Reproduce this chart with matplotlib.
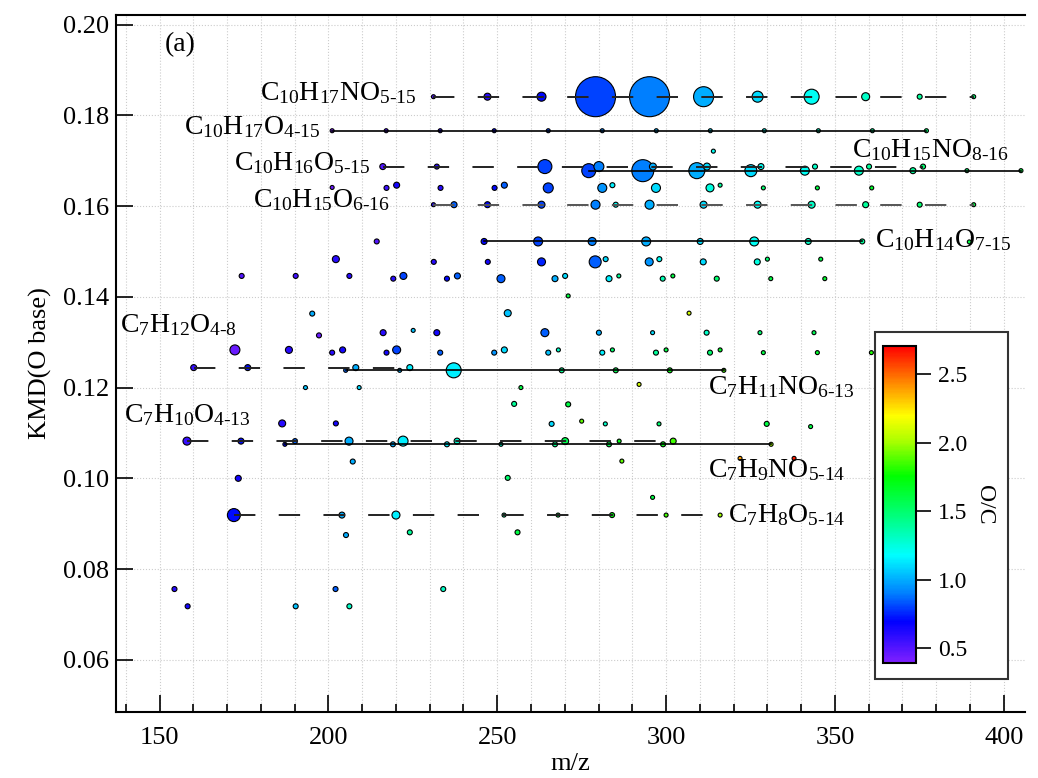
import numpy as np
import matplotlib
matplotlib.use('Agg')
import matplotlib.pyplot as plt
from matplotlib.colors import LinearSegmentedColormap, Normalize
from matplotlib.ticker import MultipleLocator, FormatStrFormatter
from matplotlib.patches import Rectangle

plt.rcParams['font.family'] = ['Liberation Serif', 'DejaVu Serif']
plt.rcParams['mathtext.fontset'] = 'custom'
plt.rcParams['mathtext.rm'] = 'Liberation Serif'
plt.rcParams['mathtext.it'] = 'Liberation Serif:italic'
plt.rcParams['mathtext.bf'] = 'Liberation Serif:bold'

# homologous series (members differ by one O)
ser_labels = [r'C$_{10}$H$_{17}$NO$_{5\text{-}15}$', r'C$_{10}$H$_{17}$O$_{4\text{-}15}$',
              r'C$_{10}$H$_{16}$O$_{5\text{-}15}$', r'C$_{10}$H$_{15}$NO$_{8\text{-}16}$',
              r'C$_{10}$H$_{15}$O$_{6\text{-}16}$', r'C$_{10}$H$_{14}$O$_{7\text{-}15}$',
              r'C$_{7}$H$_{12}$O$_{4\text{-}8}$', r'C$_{7}$H$_{11}$NO$_{6\text{-}13}$',
              r'C$_{7}$H$_{10}$O$_{4\text{-}13}$', r'C$_{7}$H$_{9}$NO$_{5\text{-}14}$',
              r'C$_{7}$H$_{8}$O$_{5\text{-}14}$']
ser_kmd = [0.1841, 0.1766, 0.1687, 0.1678, 0.1603, 0.1522, 0.1244, 0.1238, 0.1082, 0.1075, 0.0919]
ser1_mz = [231.1, 247.1, 263.1, 279.1, 295.1, 311.1, 327.1, 343.1, 359.1, 375.1, 391.1]
ser2_mz = [201.1, 217.1, 233.1, 249.1, 265.1, 281.1, 297.1, 313.1, 329.1, 345.1, 361.1, 377.1]
ser3_mz = [216.1, 232.1, 248.1, 264.1, 280.1, 296.1, 312.1, 328.1, 344.1, 360.1, 376.1]
ser4_mz = [277.1, 293.1, 309.1, 325.1, 341.1, 357.1, 373.1, 389.1, 405.1]
ser5_mz = [231.1, 247.1, 263.1, 279.1, 295.1, 311.1, 327.1, 343.1, 359.1, 375.1, 391.1]
ser6_mz = [246.1, 262.1, 278.1, 294.1, 310.1, 326.1, 342.1, 358.1]
ser7_mz = [160.1, 176.1, 192.1, 208.1, 224.1]
ser8_mz = [205.1, 221.1, 237.1, 253.1, 269.1, 285.1, 301.1, 317.1]
ser9_mz = [158.1, 174.1, 190.1, 206.1, 222.1, 238.1, 254.1, 270.1, 286.1, 302.1]
ser10_mz = [187.1, 203.1, 219.1, 235.1, 251.1, 267.1, 283.1, 299.1, 315.1, 331.1]
ser11_mz = [172.0, 188.0, 204.0, 220.0, 236.0, 252.0, 268.0, 284.0, 300.0, 316.0]
ser_dashed = [True, False, True, False, True, False, True, False, True, False, True]

# all detected ions: m/z, KMD, O/C and relative intensity
mz = [231.1, 247.1, 263.1, 279.1, 295.1, 311.1, 327.1, 343.1, 359.1, 375.1, 391.1,
      201.1, 217.1, 233.1, 249.1, 265.1, 281.1, 297.1, 313.1, 329.1, 345.1, 361.1, 377.1,
      314.0,
      216.1, 232.1, 264.1, 280.1, 296.1, 312.1, 328.1, 344.1, 360.1, 376.1,
      277.1, 293.1, 309.1, 325.1, 341.1, 357.1, 373.1, 389.1, 405.1,
      201.1, 217.2, 220.2, 233.2, 249.2, 252.1, 265.1, 281.1, 284.1, 297.0, 313.0, 316.0, 328.8, 344.8, 360.9,
      231.1, 237.2, 247.1, 263.1, 279.1, 285.1, 295.1, 311.1, 327.1, 343.1, 359.1, 375.1, 391.1,
      214.3, 246.1, 262.1, 278.1, 294.1, 310.1, 326.1, 342.1, 358.1, 389.8,
      202.2, 231.2, 247.2, 263.1, 279.0, 282.1, 295.0, 298.0, 311.0, 327.0, 330.0, 345.8,
      174.3, 190.3, 206.2, 219.2, 222.2, 235.1, 238.2, 251.1, 267.1, 270.1, 283.1, 286.0, 299.0, 302.0,
      315.0, 331.0, 347.0,
      271.0,
      195.2, 253.1, 306.8,
      197.2, 216.2, 225.1, 232.1, 264.1, 280.1, 296.0, 312.0, 327.8, 343.8,
      172.3, 188.3, 201.1, 204.2, 217.2, 220.2, 233.1, 249.1, 252.1, 265.1, 268.1, 281.1, 284.1, 297.0,
      300.0, 313.0, 316.0, 328.8, 344.8, 360.8,
      160.1, 176.1, 208.1, 224.1,
      205.1, 221.1, 237.1, 269.1, 285.1, 301.1, 317.1,
      193.2, 209.1, 257.0, 292.0,
      255.0, 271.0,
      186.3, 202.2, 266.1, 275.0, 282.0, 297.9, 329.8, 342.8,
      158.1, 174.1, 190.1, 206.1, 222.1, 238.1, 270.1, 286.1, 302.1,
      187.1, 219.1, 235.1, 251.1, 267.1, 283.1, 299.1, 331.1,
      207.2, 286.9, 321.9, 337.9,
      173.3, 253.1,
      296.0,
      172.0, 204.0, 220.0, 252.0, 268.0, 284.0, 300.0, 316.0,
      205.2, 224.1, 256.0,
      154.4, 202.1, 234.0,
      158.3, 190.3, 206.2]
kmd = [0.1841] * 11 + [0.1766] * 12 + [0.1721] + [0.1687] * 10 + [0.1678] * 9 + \
      [0.1641, 0.1640, 0.1646, 0.1640, 0.1640, 0.1646, 0.1640, 0.1640, 0.1646, 0.1640, 0.1640, 0.1646,
       0.1640, 0.1640, 0.1640] + \
      [0.1603] * 13 + [0.1522] * 9 + [0.1521] + \
      [0.1483, 0.1477, 0.1477, 0.1477, 0.1477, 0.1483, 0.1477, 0.1483, 0.1477, 0.1477, 0.1483, 0.1483] + \
      [0.1446, 0.1446, 0.1446, 0.1440, 0.1446, 0.1440, 0.1446, 0.1440, 0.1440, 0.1446, 0.1440, 0.1446,
       0.1440, 0.1446, 0.1440, 0.1440, 0.1440] + \
      [0.1402] + [0.1363, 0.1364, 0.1364] + \
      [0.1315, 0.1321, 0.1326, 0.1321, 0.1321, 0.1321, 0.1321, 0.1321, 0.1321, 0.1321] + \
      [0.1283, 0.1283, 0.1277, 0.1283, 0.1277, 0.1283, 0.1277, 0.1277, 0.1283, 0.1277, 0.1283, 0.1277,
       0.1283, 0.1277, 0.1283, 0.1277, 0.1283, 0.1277, 0.1277, 0.1277] + \
      [0.1244] * 4 + [0.1238] * 7 + [0.1200, 0.1200, 0.1200, 0.1207] + [0.1164, 0.1163] + \
      [0.1121, 0.1121, 0.1120, 0.1126, 0.1120, 0.1120, 0.1120, 0.1114] + \
      [0.1082] * 9 + [0.1075] * 8 + [0.1037, 0.1038, 0.1044, 0.1044] + [0.1000, 0.1001] + [0.0958] + \
      [0.0919] * 8 + [0.0875, 0.0881, 0.0881] + [0.0756] * 3 + [0.0718] * 3
oc = [0.5, 0.6, 0.7, 0.8, 0.9, 1.0, 1.1, 1.2, 1.3, 1.4, 1.5,
      0.4, 0.5, 0.6, 0.7, 0.8, 0.9, 1.0, 1.1, 1.2, 1.3, 1.4, 1.5,
      1.2,
      0.5, 0.6, 0.8, 0.9, 1.0, 1.1, 1.2, 1.3, 1.4, 1.5,
      0.8, 0.9, 1.0, 1.1, 1.2, 1.3, 1.4, 1.5, 1.6,
      0.45, 0.55, 0.65, 0.6, 0.7, 0.85, 0.8, 0.95, 1.15, 1.1, 1.25, 1.4, 1.5, 1.6, 1.65,
      0.6, 0.85, 0.7, 0.8, 0.9, 1.2, 1.0, 1.1, 1.2, 1.3, 1.4, 1.5, 1.6,
      0.5, 0.7, 0.8, 0.9, 1.0, 1.1, 1.2, 1.3, 1.4, 1.6,
      0.6, 0.6, 0.65, 0.75, 0.85, 1.1, 0.95, 1.2, 1.1, 1.25, 1.5, 1.6,
      0.5, 0.55, 0.6, 0.6, 0.8, 0.7, 0.85, 0.85, 1.0, 1.1, 1.15, 1.4, 1.35, 1.6,
      1.5, 1.6, 1.65,
      1.6,
      1.0, 1.05, 2.1,
      0.45, 0.6, 1.05, 0.65, 0.85, 1.0, 1.1, 1.3, 1.5, 1.55,
      0.45, 0.6, 0.6, 0.65, 0.65, 0.8, 0.85, 0.95, 1.1, 1.05, 1.3, 1.15, 1.5, 1.4,
      1.6, 1.5, 1.65, 1.6, 1.65, 1.8,
      0.571, 0.714, 1.0, 1.143,
      0.857, 1.0, 1.143, 1.429, 1.571, 1.714, 1.857,
      1.05, 1.1, 1.6, 2.1,
      1.4, 1.6,
      0.6, 0.65, 1.1, 1.9, 1.3, 1.5, 1.6, 1.6,
      0.571, 0.714, 0.857, 1.0, 1.143, 1.286, 1.571, 1.714, 1.857,
      0.714, 1.0, 1.143, 1.286, 1.429, 1.571, 1.714, 2.0,
      1.0, 1.9, 2.4, 2.65,
      0.65, 1.5,
      1.6,
      0.714, 1.0, 1.143, 1.429, 1.571, 1.714, 1.857, 2.0,
      1.0, 1.4, 1.6,
      0.6, 0.85, 1.3,
      0.65, 1.05, 1.3]
intensity = [2, 3.5, 4.5, 20, 20, 10, 5.5, 7.5, 4, 2.5, 2,
             2, 2, 2, 2, 2, 2, 2, 2, 2, 2, 2, 2,
             2,
             3, 2.5, 7, 5, 3.5, 3.5, 3, 2.5, 2.5, 2.5,
             7, 11, 8, 6, 4.5, 4.5, 3, 2, 2,
             2, 2.5, 3, 2.5, 2.5, 3, 5, 4.5, 2.5, 4.5, 4, 2, 2, 2, 2,
             2, 3, 3, 3.5, 4.5, 2.5, 4.5, 3.5, 3.5, 3.5, 3, 2.5, 2,
             2.5, 3, 4.5, 4, 4.5, 3, 4.5, 3, 2.5, 2,
             3.5, 2.5, 2.5, 4, 6, 2.5, 4, 2.5, 3, 3, 2, 2,
             2.5, 2.5, 2.5, 2.5, 3.5, 2.5, 3, 4, 3, 2.5, 3, 2, 2.5, 2,
             2.5, 2, 2,
             2,
             2.5, 3.5, 2,
             2.5, 3, 2, 3, 4, 2.5, 2, 2.5, 2, 2,
             5, 3.5, 2.5, 3, 2.5, 4, 2.5, 2.5, 3, 2.5, 2, 2.5, 2, 2.5,
             2, 2.5, 2, 2, 2, 2,
             3, 3, 3, 3,
             2, 2, 7.5, 2.5, 2.5, 2.5, 2,
             2, 2, 2, 2,
             2.5, 2.5,
             3.5, 2.5, 2.5, 2, 2, 2, 2.5, 2,
             4, 3, 2.5, 4, 5, 3, 3.5, 2, 3,
             2, 2.5, 2.5, 2, 2.5, 2.5, 2.5, 2,
             2.5, 2, 2, 2,
             3, 2.5,
             2,
             6.5, 3, 4, 2, 2, 2.5, 2, 2,
             2.5, 2.5, 2.5,
             2.5, 2.5, 2.5,
             2.5, 2.5, 2.5]


def main():
    cmap = LinearSegmentedColormap.from_list('oc_rainbow', [
        (0.0, '#8020ff'), (0.13, '#0000ff'), (0.22, '#0080ff'), (0.34, '#00ffff'),
        (0.46, '#00ff80'), (0.59, '#00ff00'), (0.70, '#aaff00'), (0.78, '#ffff00'),
        (0.87, '#ff9900'), (1.0, '#ff0000')])
    norm = Normalize(vmin=0.39, vmax=2.71)

    fig = plt.figure(figsize=(10.38, 7.78), dpi=100)
    ax = fig.add_axes([0.1118, 0.0848, 0.8757, 0.8959])

    # bubbles: radius follows intensity
    sizes = (1.44 * np.array(intensity)) ** 2
    order = np.argsort(-sizes)
    sc = ax.scatter(np.array(mz)[order], np.array(kmd)[order], s=sizes[order],
                    c=np.array(oc)[order], cmap=cmap, norm=norm,
                    edgecolors='black', linewidths=0.8, zorder=3)

    ser_mz = [ser1_mz, ser2_mz, ser3_mz, ser4_mz, ser5_mz, ser6_mz,
              ser7_mz, ser8_mz, ser9_mz, ser10_mz, ser11_mz]
    for i in range(len(ser_mz)):
        xs = ser_mz[i]
        ys = [ser_kmd[i]] * len(xs)
        if ser_dashed[i]:
            col = '#555555' if i == 4 else '#222222'
            ax.plot(xs, ys, color=col, lw=1.4, ls=(0, (11, 12)), zorder=4)
        else:
            ax.plot(xs, ys, color='black', lw=1.2, zorder=4)

    # series labels
    fs = 20
    ax.text(226, 0.1849, ser_labels[0], ha='right', va='center', fontsize=fs)
    ax.text(197.6, 0.1774, ser_labels[1], ha='right', va='center', fontsize=fs)
    ax.text(212.3, 0.1695, ser_labels[2], ha='right', va='center', fontsize=fs)
    ax.text(355.0, 0.1723, ser_labels[3], ha='left', va='center', fontsize=fs)
    ax.text(218.2, 0.1613, ser_labels[4], ha='right', va='center', fontsize=fs)
    ax.text(361.8, 0.1525, ser_labels[5], ha='left', va='center', fontsize=fs)
    ax.text(172.9, 0.1338, ser_labels[6], ha='right', va='center', fontsize=fs)
    ax.text(312.4, 0.1201, ser_labels[7], ha='left', va='center', fontsize=fs)
    ax.text(176.8, 0.1140, ser_labels[8], ha='right', va='center', fontsize=fs)
    ax.text(312.4, 0.1018, ser_labels[9], ha='left', va='center', fontsize=fs)
    ax.text(318.3, 0.0919, ser_labels[10], ha='left', va='center', fontsize=fs)
    ax.text(151.6, 0.1955, '(a)', ha='left', va='center', fontsize=20)

    ax.set_xlim(137.1, 406.3)
    ax.set_ylim(0.0485, 0.2021)
    ax.xaxis.set_major_locator(MultipleLocator(50))
    ax.xaxis.set_minor_locator(MultipleLocator(10))
    ax.yaxis.set_major_locator(MultipleLocator(0.02))
    ax.yaxis.set_major_formatter(FormatStrFormatter('%.2f'))
    ax.tick_params(which='major', direction='in', length=12, width=1.2, labelsize=19)
    ax.tick_params(which='minor', direction='in', length=6, width=1.2)
    ax.tick_params(axis='y', pad=5)
    ax.tick_params(axis='x', pad=11)
    ax.tick_params(top=False, right=False)
    for sp in ax.spines.values():
        sp.set_linewidth(1.5)
    ax.spines['right'].set_visible(False)

    ax.grid(which='both', axis='x', ls=':', color='#cccccc', lw=0.8)
    ax.grid(which='major', axis='y', ls=':', color='#cccccc', lw=0.8)
    ax.set_axisbelow(True)

    ax.set_xlabel('m/z', fontsize=19, labelpad=3)
    ax.set_ylabel('KMD(O base)', fontsize=19, labelpad=8)

    # colour bar inside a framed box
    box = Rectangle((0.843, 0.1272), 0.128, 0.446, transform=fig.transFigure,
                    facecolor='white', edgecolor='#333333', lw=1.5, zorder=6, clip_on=False)
    ax.add_patch(box)
    cax = fig.add_axes([0.8504, 0.1474, 0.0321, 0.4082])
    cb = fig.colorbar(sc, cax=cax, ticks=[0.5, 1.0, 1.5, 2.0, 2.5])
    cb.ax.yaxis.set_major_formatter(FormatStrFormatter('%.1f'))
    cb.ax.tick_params(direction='out', length=11, width=1.2, labelsize=17, pad=5)
    cb.outline.set_linewidth(1.5)
    cb.set_label('O/C', rotation=270, fontsize=17, labelpad=20)

    fig.savefig('out.png', dpi=100)


if __name__ == '__main__':
    main()
